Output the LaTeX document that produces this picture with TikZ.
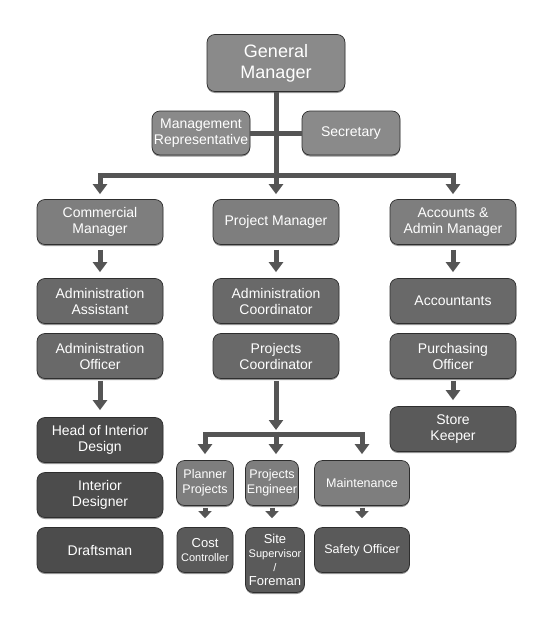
\documentclass[tikz,border=0pt]{standalone}
\usepackage{fontspec}
\setmainfont{Liberation Sans}
\usetikzlibrary{arrows.meta,shadows,calc}
\definecolor{lv0}{HTML}{8A8A8A}
\definecolor{lv1}{HTML}{7E7E7E}
\definecolor{lv2}{HTML}{696969}
\definecolor{lv3}{HTML}{5A5A5A}
\definecolor{lv4}{HTML}{4C4C4C}
\definecolor{linec}{HTML}{555555}
\definecolor{edgec}{HTML}{2E2E2E}
\tikzset{
  box/.style={rounded corners=8pt, draw=edgec, line width=0.7pt, text=white,
    align=center, inner sep=1pt, font=\fontsize{14}{16}\selectfont,
    drop shadow={shadow xshift=0pt, shadow yshift=-1.5pt, fill=black!70, opacity=0.6}},
  bigbox/.style={box, minimum width=126pt, minimum height=45pt},
  smallbox/.style={box, minimum height=45pt, font=\fontsize{12.5}{15}\selectfont},
  link/.style={draw=linec, line width=5pt},
  arr/.style={link, -{Triangle[width=14pt,length=10pt]}},
  sarr/.style={link, -{Triangle[width=13pt,length=7pt]}},
  darr/.style={link, {Triangle[width=14pt,length=10pt]}-{Triangle[width=14pt,length=10pt]}},
}
\begin{document}
\begin{tikzpicture}[x=1pt,y=-1pt]
\useasboundingbox (0,0) rectangle (553,629);
% top
\node[box, fill=lv0, minimum width=138pt, minimum height=57pt, font=\fontsize{18}{21}\selectfont] (gm) at (276,63) {General\\Manager};
\node[box, fill=lv0, minimum width=98pt, minimum height=44pt] (mr) at (201,133) {Management\\Representative};
\node[box, fill=lv0, minimum width=98pt, minimum height=44pt] (sec) at (351,133) {Secretary};
% row 1
\node[bigbox, fill=lv1] (cm) at (100,222) {Commercial\\Manager};
\node[bigbox, fill=lv1] (pm) at (276,222) {Project Manager};
\node[bigbox, fill=lv1] (am) at (453,222) {Accounts \&\\Admin Manager};
% row 2
\node[bigbox, fill=lv2] (aa) at (100,301) {Administration\\Assistant};
\node[bigbox, fill=lv2] (ac) at (276,301) {Administration\\Coordinator};
\node[bigbox, fill=lv2] (acc) at (453,301) {Accountants};
% row 3
\node[bigbox, fill=lv2] (ao) at (100,356) {Administration\\Officer};
\node[bigbox, fill=lv2] (pc) at (276,356) {Projects\\Coordinator};
\node[bigbox, fill=lv2] (po) at (453,356) {Purchasing\\Officer};
% left bottom
\node[bigbox, fill=lv4] (hid) at (100,440) {Head of Interior\\Design};
\node[bigbox, fill=lv4] (id) at (100,495) {Interior\\Designer};
\node[bigbox, fill=lv4] (dm) at (100,550) {Draftsman};
% right
\node[bigbox, fill=lv3] (sk) at (453,429) {Store\\Keeper};
% project subtree
\node[smallbox, fill=lv1, minimum width=57pt] (pp) at (205,483) {Planner\\Projects};
\node[smallbox, fill=lv1, minimum width=53pt] (pe) at (272,483) {Projects\\Engineer};
\node[smallbox, fill=lv1, minimum width=95pt] (mt) at (362,483) {Maintenance};
\node[smallbox, fill=lv3, minimum width=56pt, font=\fontsize{13}{14}\selectfont] (cc) at (205,550) {Cost\\{\fontsize{11}{13}\selectfont Controller}};
\node[smallbox, fill=lv3, minimum width=59pt, minimum height=65pt, font=\fontsize{13}{14}\selectfont] (ss) at (275,560) {Site\\{\fontsize{11}{13}\selectfont Supervisor}\\{\fontsize{11}{13}\selectfont /}\\Foreman};
\node[smallbox, fill=lv3, minimum width=95pt] (so) at (362,550) {Safety Officer};
% coordinates
\coordinate (bar) at (276,175);
\coordinate (bar2) at (276,434);
% connectors top
\draw[link] (mr.east) -- (sec.west);
\draw[arr, shorten >=5pt] (gm.south) -- (pm.north);
\draw[darr, shorten <=5pt, shorten >=5pt] (cm.north) |- (bar) -| (am.north);
% column arrows
\draw[arr, shorten <=5pt, shorten >=6pt] (cm.south) -- (aa.north);
\draw[arr, shorten <=5pt, shorten >=6pt] (pm.south) -- (ac.north);
\draw[arr, shorten <=5pt, shorten >=6pt] (am.south) -- (acc.north);
\draw[arr, shorten <=2pt, shorten >=7pt] (ao.south) -- (hid.north);
\draw[arr, shorten <=2pt, shorten >=6pt] (po.south) -- (sk.north);
% subtree
\draw[arr, shorten <=2pt, shorten >=4pt] (pc.south) -- (bar2);
\draw[darr, shorten <=6pt, shorten >=6pt] (pp.north) |- (bar2) -| (mt.north);
\draw[arr, shorten >=6pt] ($(bar2)+(0,-2.5)$) -- (pc.south |- pe.north);
\draw[sarr, shorten <=2pt, shorten >=9pt] (pp.south) -- (cc.north);
\draw[sarr, shorten <=2pt, shorten >=9pt] (pe.south) -- (pe.south |- ss.north);
\draw[sarr, shorten <=2pt, shorten >=9pt] (mt.south) -- (so.north);
\end{tikzpicture}
\end{document}
